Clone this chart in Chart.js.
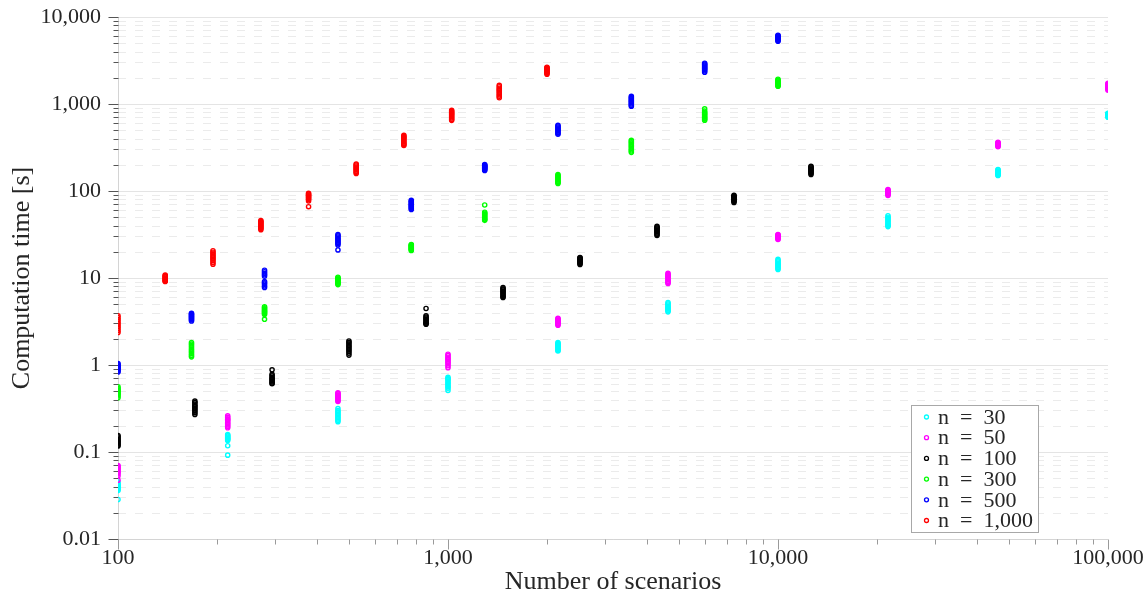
<!DOCTYPE html>
<html>
<head>
<meta charset="utf-8">
<script src="https://cdn.jsdelivr.net/npm/chart.js@4/dist/chart.umd.min.js"></script>
<style>
html, body { margin: 0; padding: 0; background: #ffffff; }
canvas { display: block; }
</style>
</head>
<body>
<canvas id="chart" width="1148" height="595"></canvas>
<script>
// ---------- data ----------
const seriesLabels = ['n = 30', 'n = 50', 'n = 100', 'n = 300', 'n = 500', 'n = 1,000'];
const seriesColors = ['#00ffff', '#ff00ff', '#000000', '#00ff00', '#0000ff', '#ff0000'];

const scen30 = [100, 215, 464, 1000, 2154, 4642, 10000, 21544, 46416, 100000];
const time30 = [
  [0.045, 0.043, 0.042, 0.041, 0.040, 0.039, 0.038, 0.037, 0.036, 0.0285],
  [0.159, 0.155, 0.152, 0.148, 0.145, 0.142, 0.139, 0.136, 0.118, 0.092],
  [0.316, 0.30, 0.29, 0.28, 0.27, 0.26, 0.25, 0.24, 0.232, 0.223],
  [0.72, 0.70, 0.68, 0.66, 0.63, 0.61, 0.58, 0.56, 0.54, 0.51],
  [1.81, 1.76, 1.72, 1.68, 1.64, 1.60, 1.56, 1.52, 1.48, 1.45],
  [5.23, 5.05, 4.9, 4.75, 4.6, 4.5, 4.4, 4.3, 4.2, 4.08],
  [16.4, 15.9, 15.4, 14.9, 14.5, 14.1, 13.7, 13.3, 12.9, 12.5],
  [52, 50, 48.5, 47, 45.5, 44, 42.5, 41, 40, 39],
  [177, 174, 170, 167, 164, 161, 158, 156, 153, 151],
  [783, 775, 767, 760, 752, 744, 736, 727, 715, 703]
];

const scen50 = [100, 215, 464, 1000, 2154, 4642, 10000, 21544, 46416, 100000];
const time50 = [
  [0.070, 0.068, 0.066, 0.064, 0.062, 0.060, 0.058, 0.056, 0.053, 0.0475],
  [0.26, 0.25, 0.24, 0.235, 0.228, 0.22, 0.212, 0.205, 0.198, 0.19],
  [0.48, 0.47, 0.455, 0.445, 0.435, 0.425, 0.415, 0.405, 0.39, 0.38],
  [1.33, 1.28, 1.23, 1.19, 1.15, 1.11, 1.07, 1.03, 0.98, 0.93],
  [3.44, 3.38, 3.3, 3.24, 3.18, 3.12, 3.06, 3.0, 2.93, 2.86],
  [11.3, 11.0, 10.7, 10.4, 10.1, 9.8, 9.5, 9.2, 8.9, 8.64],
  [31.6, 31.2, 30.8, 30.4, 30.0, 29.6, 29.2, 28.7, 28.2, 27.7],
  [104, 102, 100.5, 99, 97.5, 96, 94.5, 93, 91, 89],
  [362, 358, 354, 350, 346, 342, 338, 334, 328, 323],
  [1731, 1700, 1670, 1640, 1610, 1580, 1550, 1520, 1480, 1437]
];

const scen100 = [100, 171, 293, 501, 858, 1468, 2512, 4299, 7356, 12589];
const time100 = [
  [0.155, 0.15, 0.145, 0.14, 0.136, 0.132, 0.128, 0.124, 0.12, 0.117],
  [0.384, 0.37, 0.355, 0.34, 0.33, 0.318, 0.306, 0.295, 0.283, 0.27],
  [0.88, 0.78, 0.75, 0.72, 0.70, 0.68, 0.66, 0.64, 0.62, 0.61],
  [1.89, 1.82, 1.75, 1.68, 1.62, 1.56, 1.50, 1.44, 1.37, 1.30],
  [4.46, 3.67, 3.55, 3.45, 3.35, 3.25, 3.15, 3.06, 3.0, 2.94],
  [7.77, 7.5, 7.3, 7.1, 6.9, 6.7, 6.5, 6.3, 6.1, 5.96],
  [17.2, 16.9, 16.6, 16.3, 16.0, 15.7, 15.4, 15.1, 14.7, 14.3],
  [39.2, 38.3, 37.4, 36.5, 35.6, 34.7, 33.8, 32.8, 31.8, 30.8],
  [89, 87.5, 86, 84.5, 83, 81.5, 80, 78, 76, 74],
  [192, 188, 184, 180, 176, 172, 168, 164, 160, 155]
];

const scen300 = [100, 167, 278, 464, 774, 1292, 2154, 3594, 5995, 10000];
const time300 = [
  [0.56, 0.54, 0.52, 0.51, 0.50, 0.48, 0.47, 0.455, 0.44, 0.42],
  [1.81, 1.74, 1.67, 1.6, 1.53, 1.47, 1.41, 1.35, 1.29, 1.24],
  [4.68, 4.55, 4.42, 4.3, 4.2, 4.1, 4.0, 3.9, 3.8, 3.35],
  [10.2, 10.0, 9.8, 9.6, 9.4, 9.2, 9.0, 8.8, 8.6, 8.4],
  [24.3, 23.9, 23.5, 23.1, 22.7, 22.3, 21.9, 21.5, 21.1, 20.7],
  [69, 57, 55.5, 54, 52.5, 51, 49.5, 48, 47, 46],
  [155, 151, 147, 143, 139, 135, 131, 128, 125, 122],
  [382, 370, 358, 346, 334, 322, 310, 298, 288, 278],
  [880, 830, 800, 775, 750, 725, 705, 685, 667, 650],
  [1925, 1885, 1845, 1805, 1765, 1725, 1690, 1655, 1625, 1598]
];

const scen500 = [100, 167, 278, 464, 774, 1292, 2154, 3594, 5995, 10000];
const time500 = [
  [1.04, 1.01, 0.98, 0.96, 0.94, 0.92, 0.90, 0.88, 0.855, 0.83],
  [3.93, 3.85, 3.77, 3.69, 3.61, 3.53, 3.45, 3.37, 3.29, 3.2],
  [12.3, 11.8, 11.3, 10.9, 10.5, 9.1, 8.8, 8.5, 8.1, 7.8],
  [31.5, 30.5, 29.5, 28.5, 27.6, 26.7, 25.8, 24.9, 24, 21],
  [78, 76, 74, 72, 70, 68, 66.5, 65, 63, 61.4],
  [202, 198, 195, 192, 189, 186, 183, 180, 176, 172],
  [569, 555, 541, 527, 514, 501, 488, 475, 462, 449],
  [1226, 1190, 1155, 1120, 1090, 1060, 1030, 1000, 970, 941],
  [2941, 2870, 2800, 2730, 2660, 2600, 2540, 2480, 2400, 2315],
  [6173, 6070, 5970, 5870, 5770, 5670, 5570, 5470, 5370, 5267]
];

const scen1000 = [100, 139, 194, 271, 378, 527, 735, 1026, 1430, 1995];
const time1000 = [
  [3.67, 3.5, 3.33, 3.17, 3.02, 2.88, 2.75, 2.62, 2.49, 2.36],
  [10.8, 10.6, 10.4, 10.2, 10.0, 9.8, 9.6, 9.4, 9.25, 9.1],
  [20.6, 19.8, 19.0, 18.3, 17.6, 17.0, 16.4, 15.8, 15.1, 14.4],
  [45.6, 44.5, 43.4, 42.3, 41.2, 40.1, 39.0, 38.0, 37.0, 35.9],
  [94, 92, 90, 88, 86, 84, 82, 80, 77, 66],
  [204, 199, 194, 189, 184, 179, 174, 169, 164, 159],
  [436, 424, 412, 400, 388, 376, 364, 352, 343, 334],
  [846, 822, 800, 778, 756, 735, 713, 691, 670, 649],
  [1640, 1580, 1520, 1470, 1420, 1370, 1320, 1270, 1225, 1180],
  [2645, 2600, 2550, 2500, 2450, 2400, 2350, 2300, 2250, 2200]
];

const xMajorTicks = [100, 1000, 10000, 100000];
const yMajorTicks = [0.01, 0.1, 1, 10, 100, 1000, 10000];
const minorMultipliers = [2, 3, 4, 5, 6, 7, 8, 9];

const xTitle = 'Number of scenarios';
const yTitle = 'Computation time [s]';

// ---------- build chart structures ----------
const allScen = [scen30, scen50, scen100, scen300, scen500, scen1000];
const allTime = [time30, time50, time100, time300, time500, time1000];

function toPoints(scen, times) {
  const pts = [];
  scen.forEach((s, i) => times[i].forEach(t => pts.push({ x: s, y: t })));
  return pts;
}

const datasets = seriesLabels.map((label, i) => ({
  label: label,
  data: toPoints(allScen[i], allTime[i]),
  borderColor: seriesColors[i],
  backgroundColor: 'rgba(0,0,0,0)',
  pointBackgroundColor: 'rgba(0,0,0,0)',
  pointBorderColor: seriesColors[i],
  pointRadius: 2.1,
  pointBorderWidth: 1.4,
  pointHoverRadius: 2.1,
  showLine: false,
  order: seriesLabels.length - i
}));

function buildLogTicks(majors) {
  const ticks = [];
  majors.forEach((m, i) => {
    ticks.push({ value: m, major: true });
    if (i < majors.length - 1) {
      minorMultipliers.forEach(k => ticks.push({ value: +(m * k).toPrecision(6), major: false }));
    }
  });
  return ticks;
}

function fmtNum(v) {
  if (v < 1) return String(v);
  return String(v).replace(/\B(?=(\d{3})+(?!\d))/g, ',');
}

const FONT = "'Liberation Serif', 'DejaVu Serif', serif";
const TEXT = '#262626';

const gridPlugin = {
  id: 'pgfGrid',
  beforeDatasetsDraw(chart) {
    const { ctx, chartArea: a, scales } = chart;
    const x = scales.x, y = scales.y;
    ctx.save();
    ctx.lineWidth = 1;
    // horizontal grid lines
    y.ticks.forEach(t => {
      const py = Math.round(y.getPixelForValue(t.value)) + 0.5;
      ctx.beginPath();
      if (t.major) { ctx.setLineDash([]); ctx.strokeStyle = '#e4e4e4'; }
      else { ctx.setLineDash([8, 9]); ctx.strokeStyle = '#ebebeb'; }
      ctx.moveTo(a.left, py);
      ctx.lineTo(a.right, py);
      ctx.stroke();
    });
    ctx.setLineDash([]);
    // axis lines
    const lx = Math.round(a.left) + 0.5;
    const by = Math.round(a.bottom) + 0.5;
    ctx.strokeStyle = '#d4d4d4';
    ctx.beginPath();
    ctx.moveTo(lx, a.top); ctx.lineTo(lx, by);
    ctx.moveTo(lx, by); ctx.lineTo(a.right, by);
    ctx.stroke();
    // y tick marks
    ctx.strokeStyle = '#555555';
    y.ticks.forEach(t => {
      const py = Math.round(y.getPixelForValue(t.value)) + 0.5;
      const len = t.major ? 10 : 5;
      ctx.beginPath();
      ctx.moveTo(lx - len, py); ctx.lineTo(lx, py);
      ctx.stroke();
    });
    // x tick marks
    ctx.strokeStyle = '#9a9a9a';
    x.ticks.forEach(t => {
      const px = Math.round(x.getPixelForValue(t.value)) + 0.5;
      const len = t.major ? 10 : 5;
      ctx.beginPath();
      ctx.moveTo(px, by); ctx.lineTo(px, by + len);
      ctx.stroke();
    });
    ctx.restore();
  }
};

const legendPlugin = {
  id: 'boxLegend',
  afterDatasetsDraw(chart) {
    const { ctx, chartArea: a } = chart;
    const w = 127, h = 127;
    const right = Math.round(a.right - 70);
    const bottom = Math.round(a.bottom - 7);
    const left = right - w, top = bottom - h;
    ctx.save();
    ctx.fillStyle = '#ffffff';
    ctx.fillRect(left, top, w, h);
    ctx.strokeStyle = '#a8a8a8';
    ctx.lineWidth = 1;
    ctx.strokeRect(left + 0.5, top + 0.5, w, h);
    ctx.font = '22px ' + FONT;
    ctx.textBaseline = 'middle';
    ctx.textAlign = 'left';
    chart.data.datasets.forEach((ds, i) => {
      const cy = top + 12 + i * 20.7;
      ctx.beginPath();
      ctx.strokeStyle = ds.borderColor;
      ctx.lineWidth = 1.3;
      ctx.arc(left + 15.5, cy, 2, 0, Math.PI * 2);
      ctx.stroke();
      ctx.fillStyle = TEXT;
      ctx.fillText(ds.label.replace(' = ', '\u2002=\u2002'), left + 27, cy + 1);
    });
    ctx.restore();
  }
};

new Chart(document.getElementById('chart'), {
  type: 'scatter',
  data: { datasets: datasets },
  options: {
    responsive: false,
    animation: false,
    events: [],
    layout: { padding: { top: 17, right: 40, left: 0, bottom: 0 } },
    plugins: {
      legend: { display: false },
      tooltip: { enabled: false }
    },
    scales: {
      x: {
        type: 'logarithmic',
        min: xMajorTicks[0],
        max: xMajorTicks[xMajorTicks.length - 1],
        afterBuildTicks: s => { s.ticks = buildLogTicks(xMajorTicks); },
        afterFit: s => { s.height = 56; s.paddingLeft = 0; s.paddingRight = 0; },
        grid: { display: false, drawTicks: false },
        border: { display: false },
        ticks: {
          autoSkip: false,
          maxRotation: 0,
          padding: 6,
          color: TEXT,
          font: { family: FONT, size: 22, lineHeight: 1.2 },
          callback: (v) => (xMajorTicks.some(m => Math.abs(m - v) / m < 1e-6) ? fmtNum(v) : '')
        },
        title: {
          display: true,
          text: xTitle,
          color: TEXT,
          font: { family: FONT, size: 26, lineHeight: 1 },
          padding: { top: 0, bottom: 0 }
        }
      },
      y: {
        type: 'logarithmic',
        min: yMajorTicks[0],
        max: yMajorTicks[yMajorTicks.length - 1],
        afterBuildTicks: s => { s.ticks = buildLogTicks(yMajorTicks); },
        afterFit: s => { s.width = 118; s.paddingTop = 0; s.paddingBottom = 0; },
        grid: { display: false, drawTicks: false },
        border: { display: false },
        ticks: {
          autoSkip: false,
          padding: 17,
          color: TEXT,
          font: { family: FONT, size: 22, lineHeight: 1.2 },
          callback: (v) => (yMajorTicks.some(m => Math.abs(m - v) / m < 1e-6) ? fmtNum(v) : '')
        },
        title: {
          display: true,
          text: yTitle,
          color: TEXT,
          font: { family: FONT, size: 26, lineHeight: 1 },
          padding: { top: 9, bottom: 0 }
        }
      }
    }
  },
  plugins: [gridPlugin, legendPlugin]
});
</script>
</body>
</html>
